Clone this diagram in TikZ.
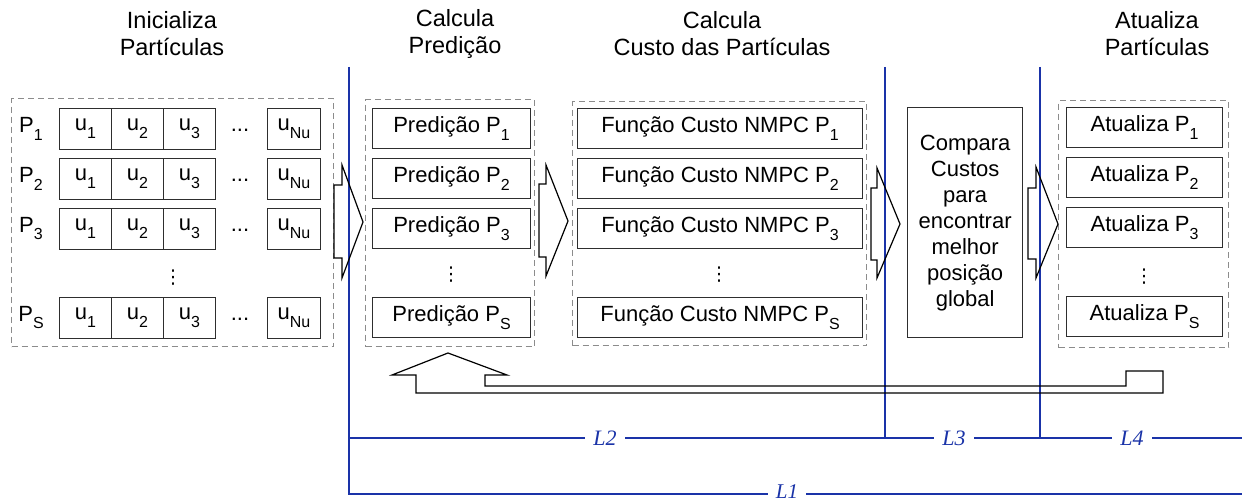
\documentclass[tikz,border=0pt]{standalone}
\usepackage{fontspec}
\setmainfont{Liberation Sans}
\newfontfamily\dimfont{Liberation Serif}
\newfontfamily\symfont{DejaVu Sans}
\definecolor{frame}{HTML}{2E2E2E}
\definecolor{dashgray}{HTML}{8C8C8C}
\definecolor{dimblue}{HTML}{1A33A8}
% lowered, smaller index after a letter
\newcommand{\lsub}[1]{\raisebox{-0.36em}{\fontsize{16}{16}\selectfont #1}}
\begin{document}
\begin{tikzpicture}[x=1pt,y=-1pt,
  head/.style={font=\fontsize{23.5}{27}\selectfont, inner sep=0pt, align=center},
  txt/.style={font=\fontsize{22}{26}\selectfont, inner sep=0pt},
  cell/.style={draw=frame, line width=1.1pt, anchor=north west, inner sep=0pt,
               minimum height=41pt, font=\fontsize{22}{26}\selectfont},
  stepbox/.style={draw=frame, line width=1.1pt, anchor=north west, inner sep=0pt,
               minimum height=40pt, font=\fontsize{22}{26}\selectfont},
  groupbox/.style={draw=dashgray, line width=1.1pt, dash pattern=on 6pt off 4pt,
               anchor=north west, inner sep=0pt},
  blockarrow/.style={draw=black, line width=1.2pt, line join=miter},
  dimline/.style={draw=dimblue, line width=1.4pt},
  dimlabel/.style={fill=white, text=dimblue, inner xsep=8pt, inner ysep=0pt,
               font=\dimfont\itshape\fontsize{22}{22}\selectfont},
  vdot/.style={font=\symfont\fontsize{19}{19}\selectfont, inner sep=0pt}]
\useasboundingbox (0,0) rectangle (1242,502);

% column headings
\node[head] (h1) at (172,34) {Inicializa\\Partículas};
\node[head] (h2) at (455,34) {Calcula\\Predição};
\node[head] (h3) at (722,34) {Calcula\\Custo das Partículas};
\node[head] (h4) at (1157,34) {Atualiza\\Partículas};

% dimension lines
\draw[dimline] (349,67) -- (349,494) -- (1242,494);
\draw[dimline] (349,438) -- (1242,438);
\draw[dimline] (885,67) -- (885,438);
\draw[dimline] (1040,67) -- (1040,438);
\node[dimlabel, font=\dimfont\itshape\fontsize{21}{21}\selectfont] (l1) at (787,491.5) {L1};
\node[dimlabel] (l2) at (605,438) {L2};
\node[dimlabel] (l3) at (954,438) {L3};
\node[dimlabel] (l4) at (1132,438) {L4};

% particle initialisation
\node[groupbox, minimum width=322pt, minimum height=248pt] (g1) at (11,98) {};
\foreach \nm/\y in {1/108, 2/158, 3/208, S/297} {
  \node[txt] (p\nm) at (31,\y+20.5) {P\lsub{\nm}};
  \node[cell, minimum width=52pt] (ua\nm) at (59,\y) {u\lsub{1}};
  \node[cell, minimum width=52pt] (ub\nm) at (111,\y) {u\lsub{2}};
  \node[cell, minimum width=52pt] (uc\nm) at (163,\y) {u\lsub{3}};
  \node[txt] (ud\nm) at (240,\y+22) {...};
  \node[cell, minimum width=53pt] (un\nm) at (267,\y) {u\lsub{Nu}};
}
\node[vdot] (v1) at (173,278) {⋮};

% prediction
\node[groupbox, minimum width=169pt, minimum height=247pt] (g2) at (365,99) {};
\foreach \nm/\y in {1/108, 2/158, 3/208, S/297}
  \node[stepbox, minimum width=158pt] (pr\nm) at (372,\y) {Predição P\lsub{\nm}};
\node[vdot] (v2) at (451,275) {⋮};

% cost evaluation
\node[groupbox, minimum width=294pt, minimum height=244pt] (g3) at (572,101) {};
\foreach \nm/\y in {1/108, 2/158, 3/208, S/297}
  \node[stepbox, minimum width=285pt] (cf\nm) at (577,\y) {Função Custo NMPC P\lsub{\nm}};
\node[vdot] (v3) at (719,275) {⋮};

% comparison
\node[draw=frame, line width=1.3pt, anchor=north west, minimum width=115pt,
      minimum height=230pt, inner sep=0pt] (cmp) at (907,107) {};
\node[txt, align=center] (cmpt) at (cmp.center)
  {Compara\\Custos\\para\\encontrar\\melhor\\posição\\global};

% update
\node[groupbox, minimum width=170pt, minimum height=247pt] (g5) at (1058,100) {};
\foreach \nm/\y in {1/107, 2/157, 3/207, S/296}
  \node[stepbox, minimum width=156pt] (at\nm) at (1066,\y) {Atualiza P\lsub{\nm}};
\node[vdot] (v5) at (1144,277) {⋮};

% block arrows between the stages
\draw[blockarrow] (334,185) -- (342,185) -- (342,165) -- (363,222) -- (342,278) -- (342,258) -- (334,258) -- cycle;
\draw[blockarrow] (539,184) -- (546,184) -- (546,165) -- (568,221) -- (546,276) -- (546,257) -- (539,257) -- cycle;
\draw[blockarrow] (871,188) -- (877,188) -- (877,168) -- (900,224) -- (877,278) -- (877,260) -- (871,260) -- cycle;
\draw[blockarrow] (1028,188) -- (1036,188) -- (1036,167) -- (1058,224) -- (1036,278) -- (1036,259) -- (1028,259) -- cycle;

% feedback arrow from the update stage back to the prediction
\draw[blockarrow] (448,353) -- (507,375) -- (485,375) -- (485,386) -- (1126,386) -- (1126,371)
  -- (1163,371) -- (1163,393) -- (416,393) -- (416,375) -- (392,375) -- cycle;
\end{tikzpicture}
\end{document}
